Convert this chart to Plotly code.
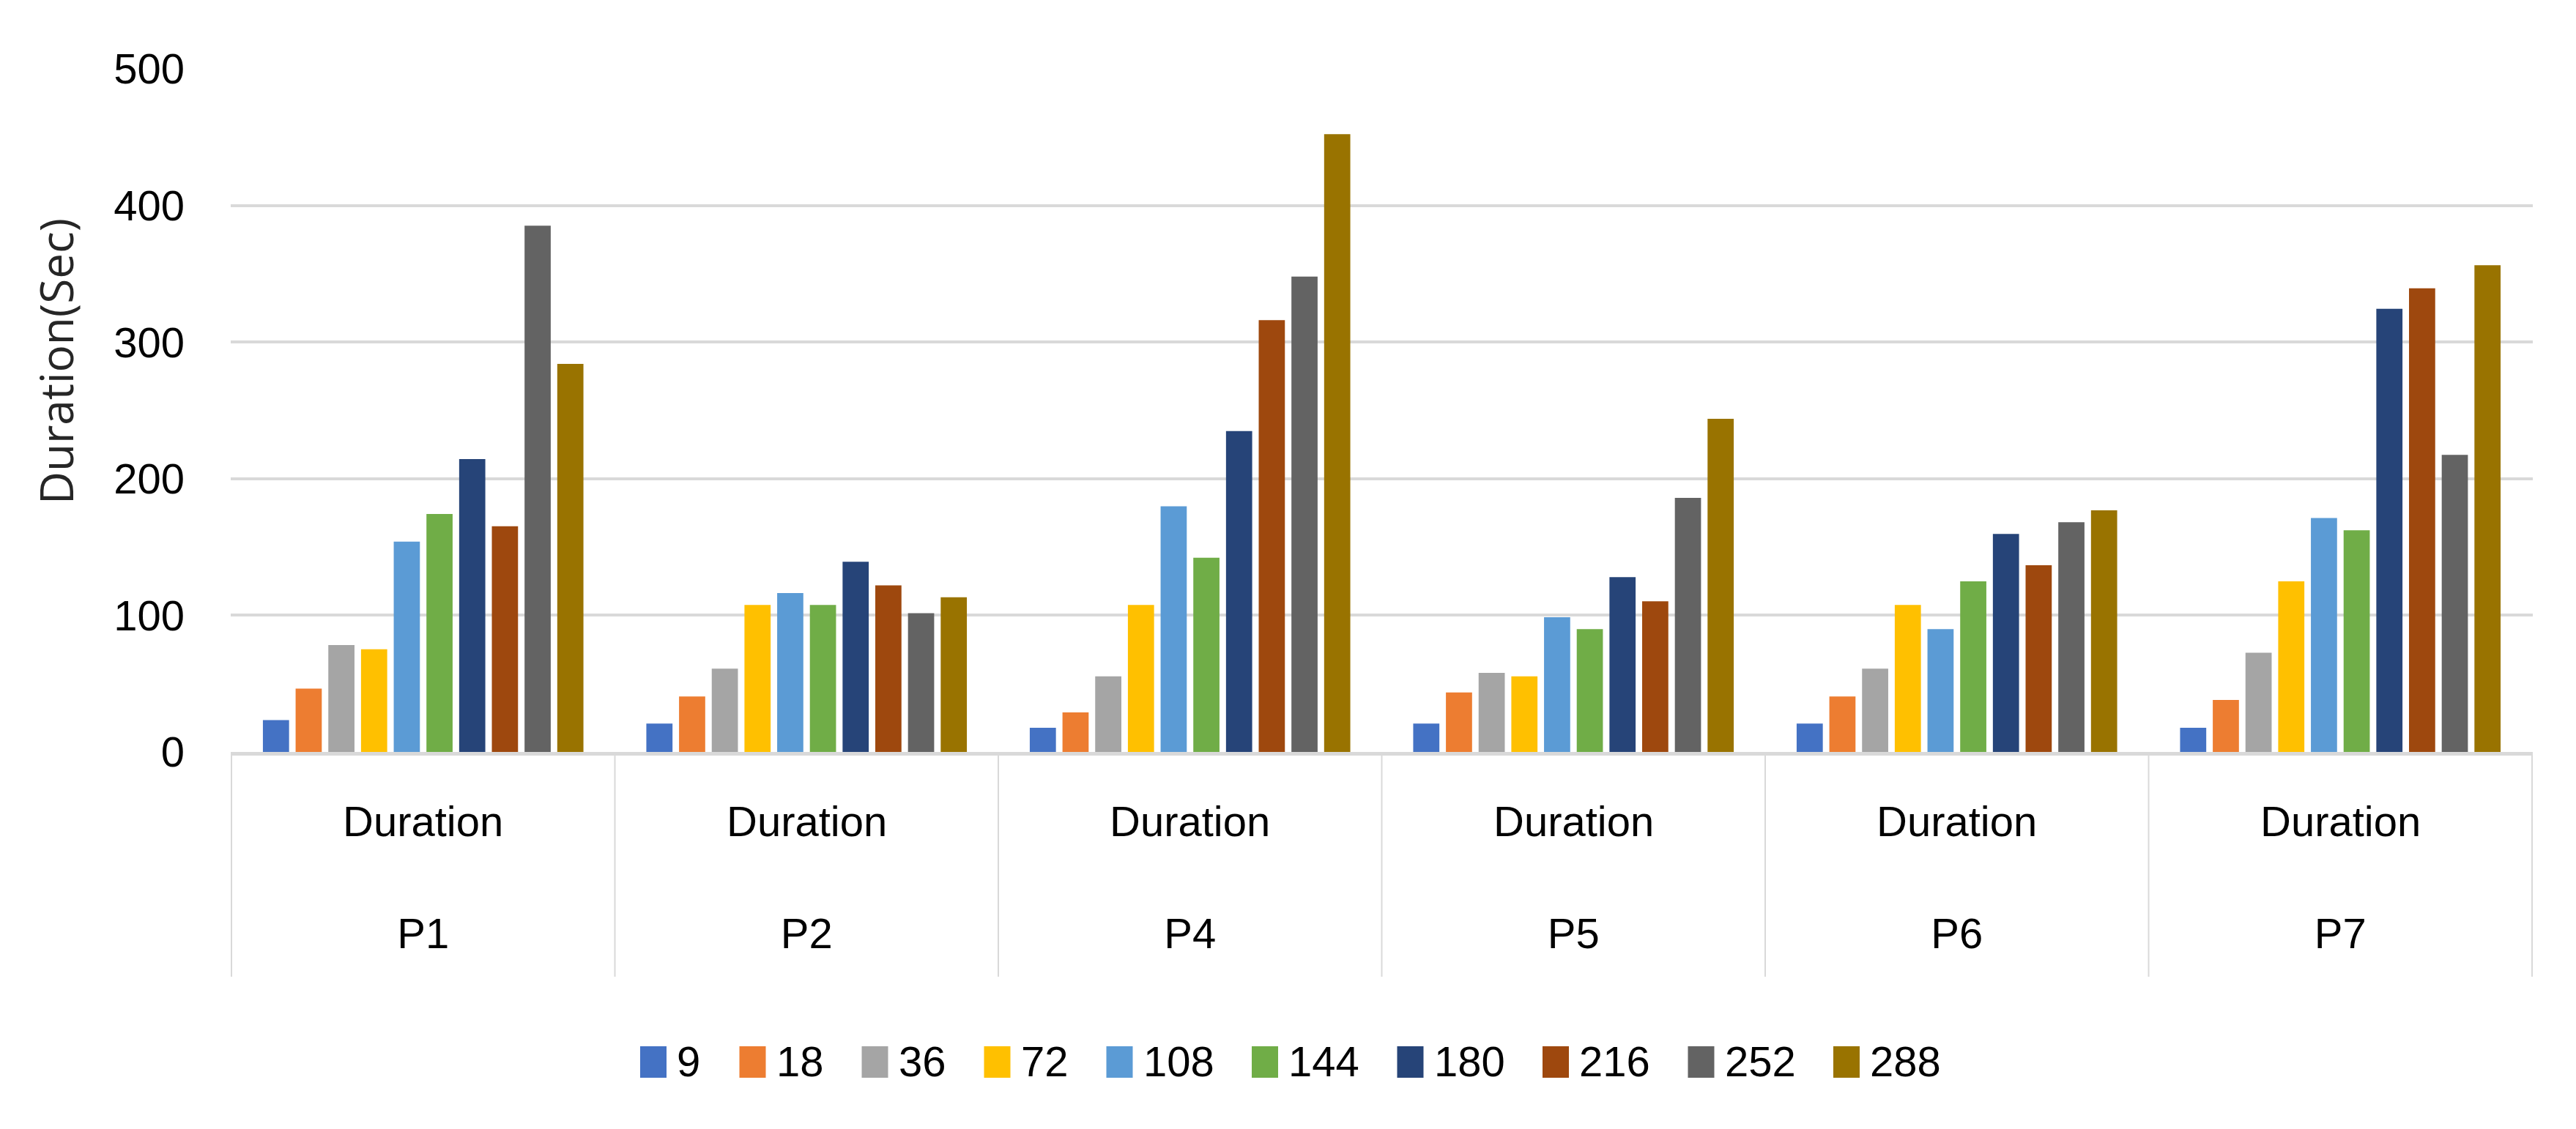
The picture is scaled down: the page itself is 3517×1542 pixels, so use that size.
import plotly.graph_objects as go

# ---------------- data ----------------
groups = ["P1", "P2", "P4", "P5", "P6", "P7"]
inner_label = "Duration"
series_names = ["9", "18", "36", "72", "108", "144", "180", "216", "252", "288"]
series_colors = ["#4472C4", "#ED7D31", "#A5A5A5", "#FFC000", "#5B9BD5",
                 "#70AD47", "#264478", "#9E480E", "#636363", "#997300"]

s9 = [23.3, 20.7, 17.7, 20.7, 20.7, 17.7]
s18 = [46.3, 40.6, 29.0, 43.6, 40.6, 38.0]
s36 = [78.3, 60.9, 55.3, 57.9, 60.9, 72.6]
s72 = [75.2, 107.6, 107.6, 55.3, 107.6, 124.9]
s108 = [153.9, 116.3, 179.8, 98.6, 89.9, 171.2]
s144 = [174.2, 107.6, 142.2, 89.9, 124.9, 162.2]
s180 = [214.4, 139.2, 234.8, 127.9, 159.5, 324.3]
s216 = [165.2, 121.9, 316.0, 110.2, 136.6, 339.3]
s252 = [385.2, 101.6, 348.0, 185.9, 168.2, 217.5]
s288 = [284.0, 113.2, 452.2, 243.8, 176.8, 356.3]
series_values = [s9, s18, s36, s72, s108, s144, s180, s216, s252, s288]

y_ticks = [0, 100, 200, 300, 400, 500]
y_title = "Duration(Sec)"

# ---------------- layout geometry ----------------
W, H = 3517, 1542
L, R, T, B = 307, 3450, 86, 1019          # plot area in pixels
PW, PH = R - L, B - T

def px_x(px):
    return (px - L) / PW

def px_y(py):
    return (B - py) / PH

FONT = "Liberation Sans, Arial, sans-serif"
FS = 58
GRID = "#D9D9D9"
TXT = "#000000"

fig = go.Figure()
for name, vals, col in zip(series_names, series_values, series_colors):
    fig.add_trace(go.Bar(x=groups, y=vals, name=name, marker_color=col,
                         marker_line_width=0, showlegend=False))

shapes = []
annotations = []

# category dividers
for i in range(len(groups) + 1):
    shapes.append(dict(type="line", xref="x", yref="paper",
                       x0=i - 0.5, x1=i - 0.5, y0=0, y1=px_y(1326),
                       line=dict(color=GRID, width=2)))

# inner category labels
for g in groups:
    annotations.append(dict(x=g, xref="x", y=px_y(1113), yref="paper",
                            text=inner_label, showarrow=False,
                            xanchor="center", yanchor="middle",
                            font=dict(family=FONT, size=FS, color=TXT)))

# y-axis title
annotations.append(dict(x=px_x(68), xref="paper", y=px_y(486), yref="paper",
                        text=y_title, textangle=-90, showarrow=False,
                        xanchor="center", yanchor="middle",
                        font=dict(family="Open Sans, sans-serif", size=62,
                                  color="#262626")))

# custom legend
x = 866
for name, col in zip(series_names, series_colors):
    shapes.append(dict(type="rect", xref="paper", yref="paper",
                       x0=px_x(x), x1=px_x(x + 36),
                       y0=px_y(1443 + 21), y1=px_y(1443 - 22),
                       fillcolor=col, line=dict(width=0)))
    annotations.append(dict(x=px_x(x + 48), xref="paper", y=px_y(1441),
                            yref="paper", text=name, showarrow=False,
                            xanchor="left", yanchor="middle",
                            font=dict(family=FONT, size=FS, color=TXT)))
    x += 104 + 31.5 * len(name)

fig.update_layout(
    width=W, height=H,
    margin=dict(l=L, r=W - R, t=T, b=H - B, pad=0),
    paper_bgcolor="white", plot_bgcolor="white",
    barmode="group", bargap=0.147, bargroupgap=0.2,
    showlegend=False,
    shapes=shapes, annotations=annotations,
    xaxis=dict(type="category", categoryorder="array", categoryarray=groups,
               showgrid=False, showline=True, linecolor=GRID, linewidth=5,
               ticks="", ticklabelstandoff=193,
               tickfont=dict(family=FONT, size=FS, color=TXT)),
    yaxis=dict(range=[0, 500], tickvals=y_ticks, showgrid=True,
               gridcolor=GRID, gridwidth=4, zeroline=False, showline=False,
               ticks="", ticklabelstandoff=62,
               tickfont=dict(family=FONT, size=FS, color=TXT)),
)

fig.write_html("out.html")
